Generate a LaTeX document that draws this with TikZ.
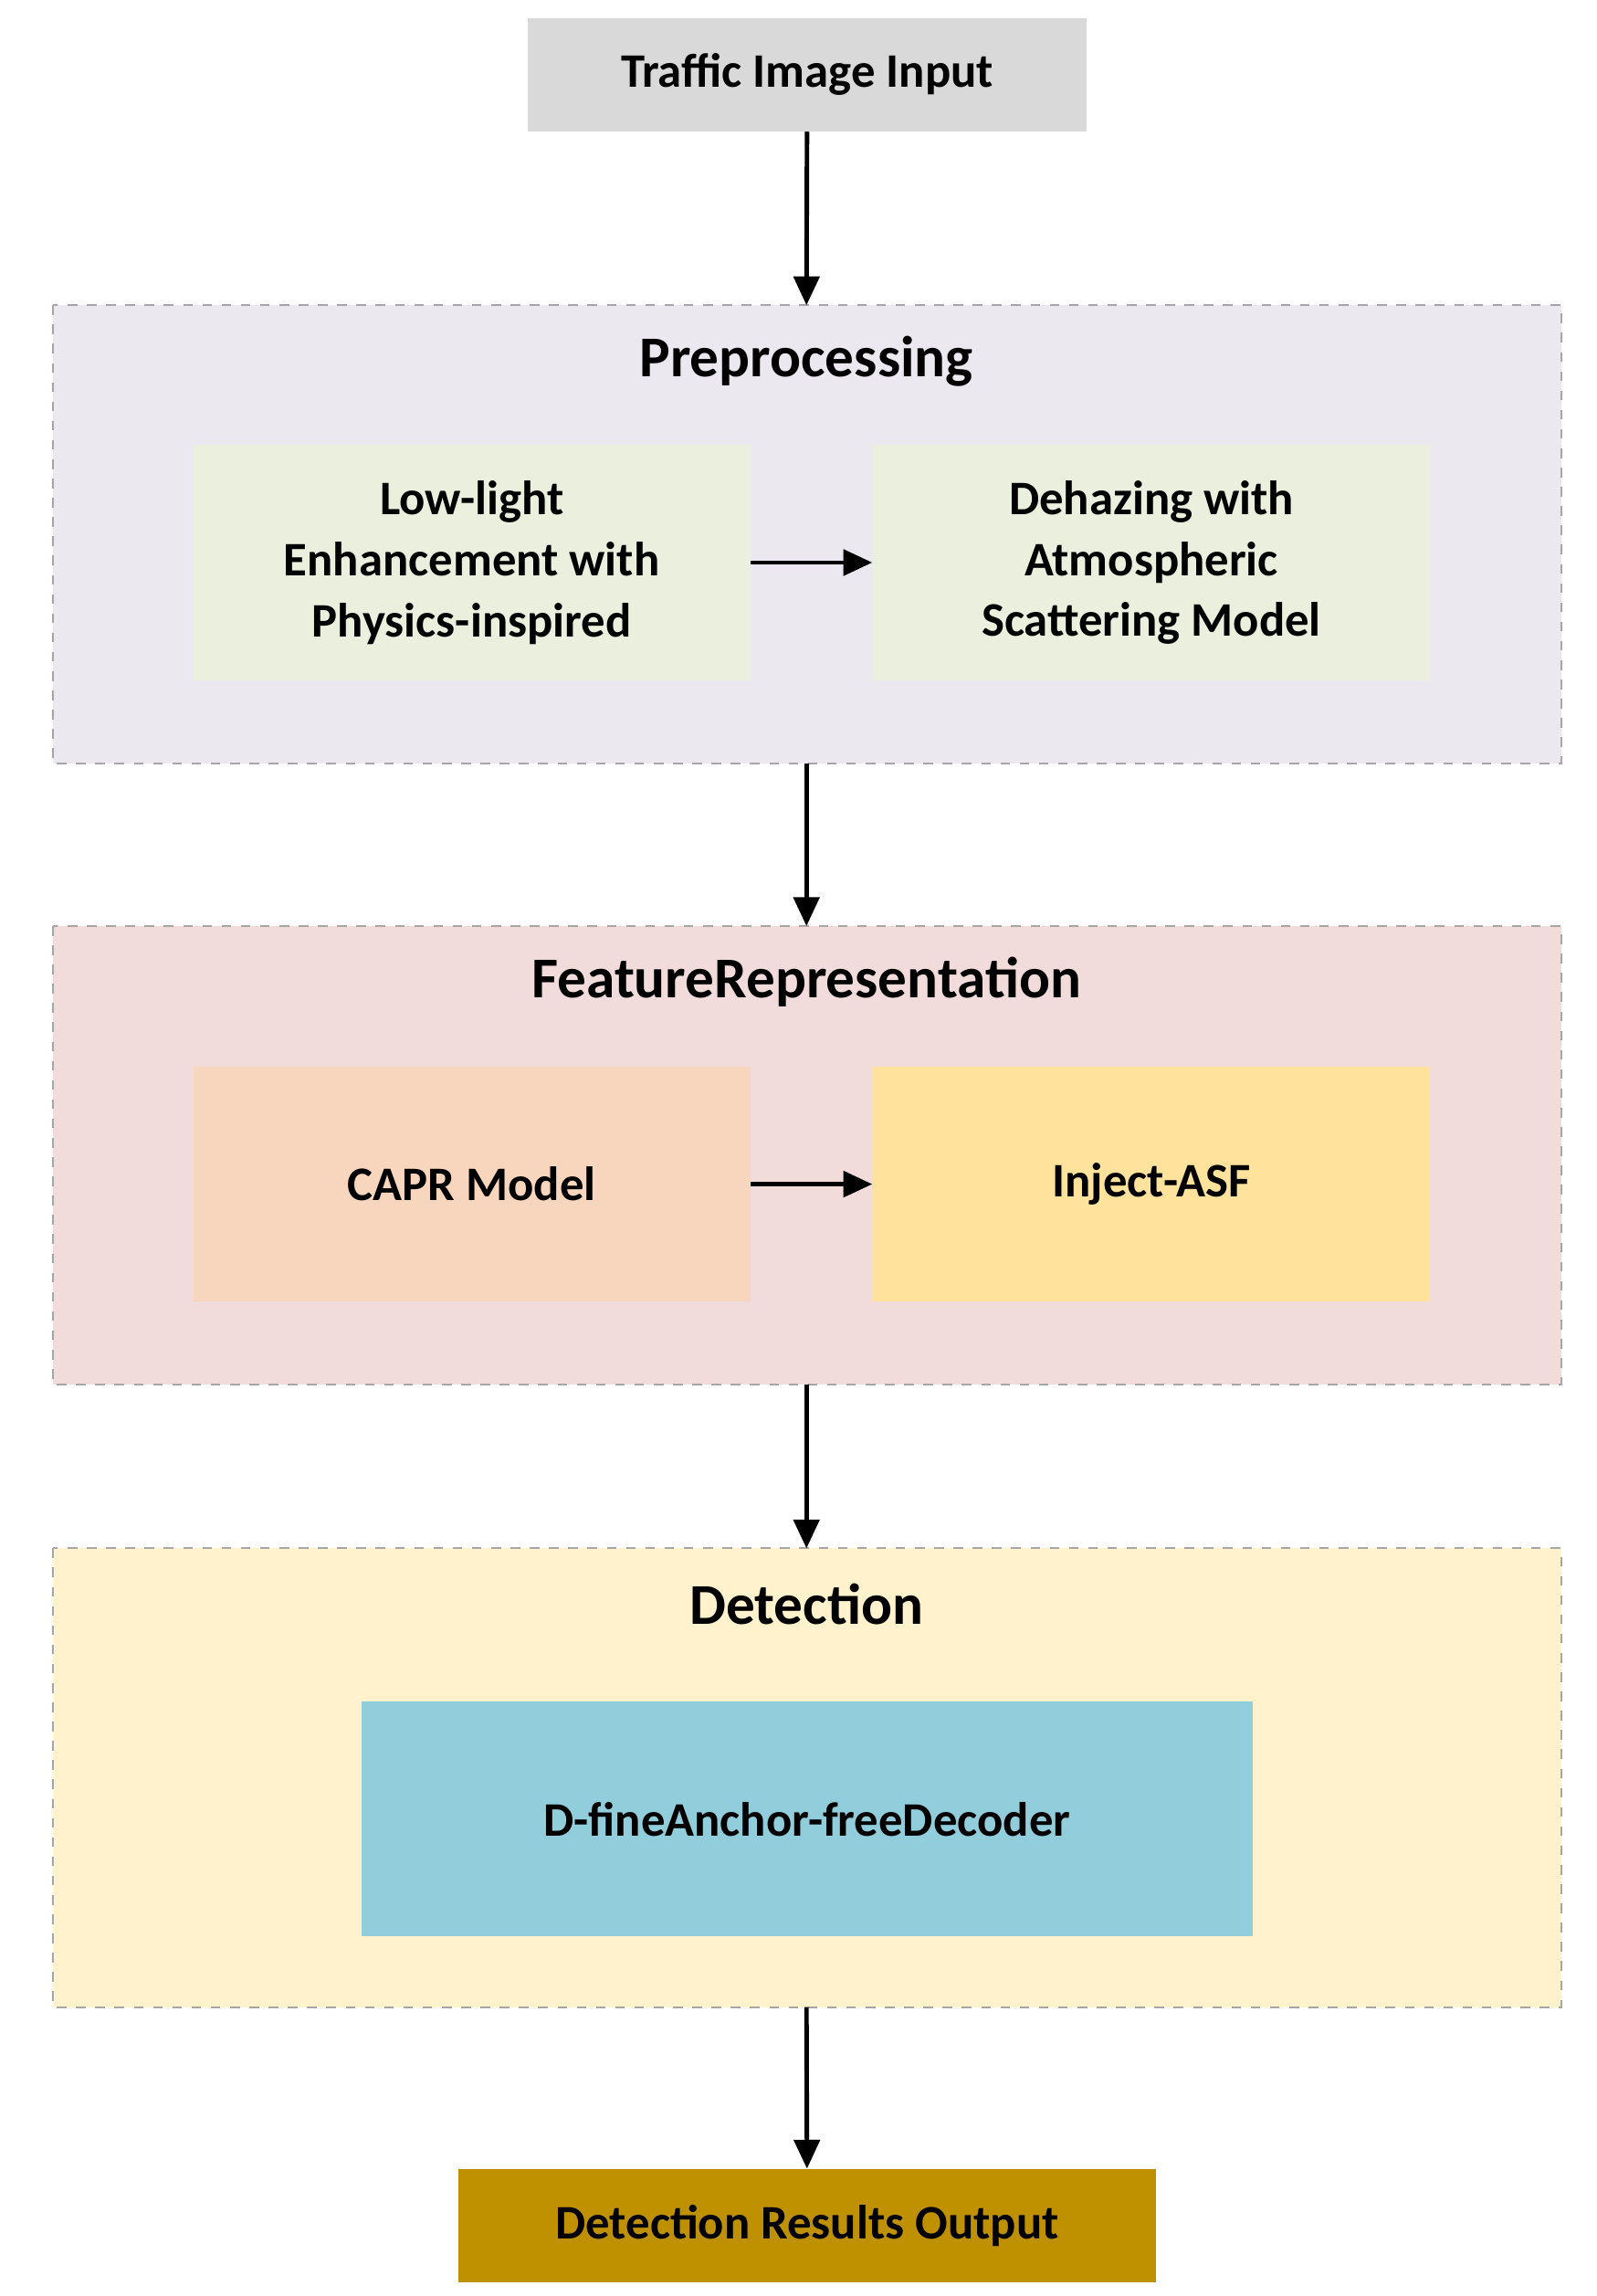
\documentclass[tikz,border=0pt]{standalone}
\usepackage{fontspec}
\setmainfont{Carlito}
\usetikzlibrary{arrows.meta}
\definecolor{inputgray}{HTML}{D9D9D9}
\definecolor{prebg}{HTML}{ECE8F0}
\definecolor{featbg}{HTML}{F2DCDB}
\definecolor{detbg}{HTML}{FFF2CC}
\definecolor{greenbox}{HTML}{EAF0DD}
\definecolor{peachbox}{HTML}{F8D6BD}
\definecolor{yellowbox}{HTML}{FFE29B}
\definecolor{bluebox}{HTML}{92CDDC}
\definecolor{goldbox}{HTML}{BF9000}
\begin{document}
\begin{tikzpicture}[x=0.01614cm, y=-0.01614cm,
  frame/.style={draw=gray!70, dashed, line width=0.6pt},
  box/.style={inner sep=0pt, align=center, font=\fontsize{15}{19}\selectfont\bfseries},
  title/.style={font=\fontsize{18}{22}\selectfont\bfseries},
  arr/.style={line width=1.4pt, -{Triangle[length=9pt,width=8pt]}}]
  \useasboundingbox (0,0) rectangle (1083,1557);
  % frames
  \draw[frame, fill=prebg] (36,207) rectangle (1059,518);
  \draw[frame, fill=featbg] (36,628) rectangle (1059,939);
  \draw[frame, fill=detbg] (36,1050) rectangle (1059,1361);
  \node[title] (Pre title) at (547,245) {Preprocessing};
  \node[title] (Feat title) at (547,666) {FeatureRepresentation};
  \node[title] (Det title) at (547,1088) {Detection};
  % nodes
  \node[box, fill=inputgray, minimum width=6.12cm, minimum height=1.24cm] (Input) at (547.5,50.5) {Traffic Image Input};
  \node[box, fill=greenbox, minimum width=6.1cm, minimum height=2.57cm] (Lowlight) at (320,381.5) {Low-light\\Enhancement with\\Physics-inspired};
  \node[box, fill=greenbox, minimum width=6.1cm, minimum height=2.57cm] (Dehaze) at (781,381.5) {Dehazing with\\Atmospheric\\Scattering Model};
  \node[box, fill=peachbox, minimum width=6.1cm, minimum height=2.57cm] (CAPR) at (320,803) {CAPR Model};
  \node[box, fill=yellowbox, minimum width=6.1cm, minimum height=2.57cm] (Inject) at (781,803) {Inject-ASF};
  \node[box, fill=bluebox, minimum width=9.76cm, minimum height=2.57cm] (Decoder) at (547.5,1233.5) {D-fineAnchor-freeDecoder};
  \node[box, fill=goldbox, minimum width=7.63cm, minimum height=1.24cm] (Output) at (547.5,1509.5) {Detection Results Output};
  % Arrows
  \draw[arr] (Input) -- (547,207);
  \draw[arr] (Lowlight) -- (Dehaze);
  \draw[arr] (547,518) -- (547,628);
  \draw[arr] (CAPR) -- (Inject);
  \draw[arr] (547,939) -- (547,1050);
  \draw[arr] (547,1361) -- (Output);
\end{tikzpicture}
\end{document}
